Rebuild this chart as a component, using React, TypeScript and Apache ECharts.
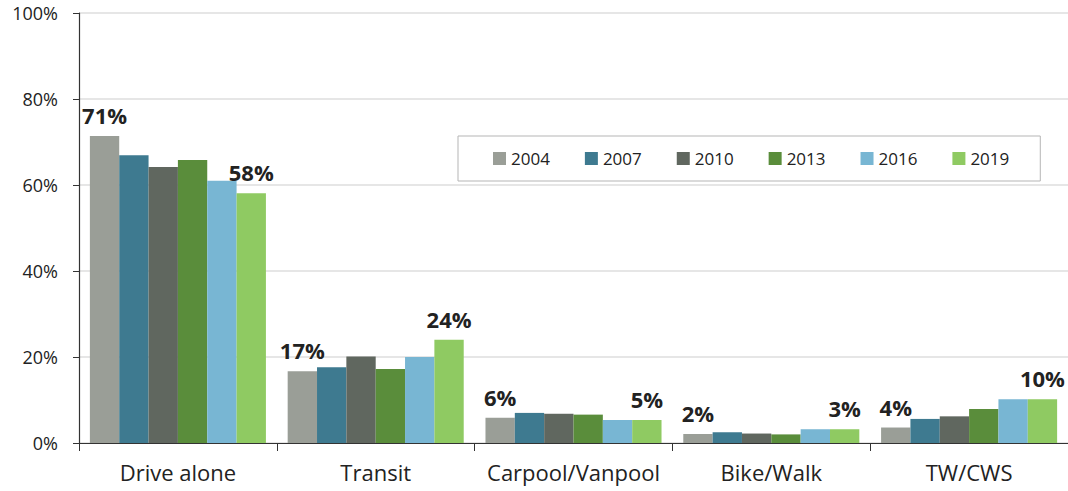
import React, { useEffect, useRef } from "react";
import * as echarts from "echarts";

const categories = ["Drive alone", "Transit", "Carpool/Vanpool", "Bike/Walk", "TW/CWS"];
const years = ["2004", "2007", "2010", "2013", "2016", "2019"];
const values2004 = [71.4, 16.7, 5.9, 2.1, 3.6];
const values2007 = [66.9, 17.6, 7.0, 2.5, 5.6];
const values2010 = [64.2, 20.1, 6.8, 2.2, 6.2];
const values2013 = [65.8, 17.2, 6.6, 2.0, 7.9];
const values2016 = [61.0, 20.0, 5.35, 3.2, 10.2];
const values2019 = [58.1, 24.0, 5.35, 3.2, 10.2];
const yTicks = [0, 20, 40, 60, 80, 100];

const seriesValues = [values2004, values2007, values2010, values2013, values2016, values2019];
const colors = ["#9a9e97", "#3e7a90", "#60675f", "#5a8d3b", "#78b6d3", "#8fca62"];
const labeled = [true, false, false, false, false, true];

const FONT = "'Open Sans', sans-serif";

export default function App() {
  const ref = useRef<HTMLDivElement>(null);
  useEffect(() => {
    const chart = echarts.init(ref.current!, undefined, { renderer: "svg" });
    chart.setOption({
      animation: false,
      backgroundColor: "#ffffff",
      textStyle: { fontFamily: FONT },
      grid: { left: 79, right: 0, top: 13, bottom: 48, containLabel: false },
      legend: {
        data: years,
        left: 458,
        top: 136,
        width: 560,
        padding: [14, 31, 14, 35],
        itemWidth: 13,
        itemHeight: 13,
        itemGap: 35,
        icon: "rect",
        borderColor: "#b5b5b5",
        borderWidth: 1,
        textStyle: { fontFamily: FONT, fontSize: 17, color: "#222" },
      },
      xAxis: {
        type: "category",
        data: categories,
        axisLine: { show: true, lineStyle: { color: "#333", width: 1.2 } },
        axisTick: { show: true, length: 8, alignWithLabel: false, interval: 0, lineStyle: { color: "#333" } },
        axisLabel: { fontFamily: FONT, fontSize: 22, color: "#222", margin: 18, interval: 0 },
        splitLine: { show: false },
      },
      yAxis: {
        type: "value",
        min: yTicks[0],
        max: yTicks[yTicks.length - 1],
        interval: 20,
        axisLine: { show: true, lineStyle: { color: "#333", width: 1.2 } },
        axisTick: { show: true, length: 6, lineStyle: { color: "#333" } },
        axisLabel: { fontFamily: FONT, fontSize: 18, color: "#222", margin: 21, formatter: "{value}%" },
        splitLine: { show: true, lineStyle: { color: "#dedede", width: 1.5 } },
      },
      series: years.map((y, i) => ({
        name: y,
        type: "bar",
        data: seriesValues[i],
        barGap: "0%",
        barCategoryGap: "11%",
        itemStyle: { color: colors[i] },
        label: {
          show: labeled[i],
          position: "top",
          distance: 10,
          fontFamily: FONT,
          fontSize: 22,
          fontWeight: "bold",
          color: "#222",
          formatter: (p: any) => Math.round(p.value) + "%",
        },
      })),
    });
    return () => chart.dispose();
  }, []);
  return (
    <div
      ref={ref}
      style={{ position: "fixed", left: 0, top: 0, width: 1068, height: 491 }}
    />
  );
}
